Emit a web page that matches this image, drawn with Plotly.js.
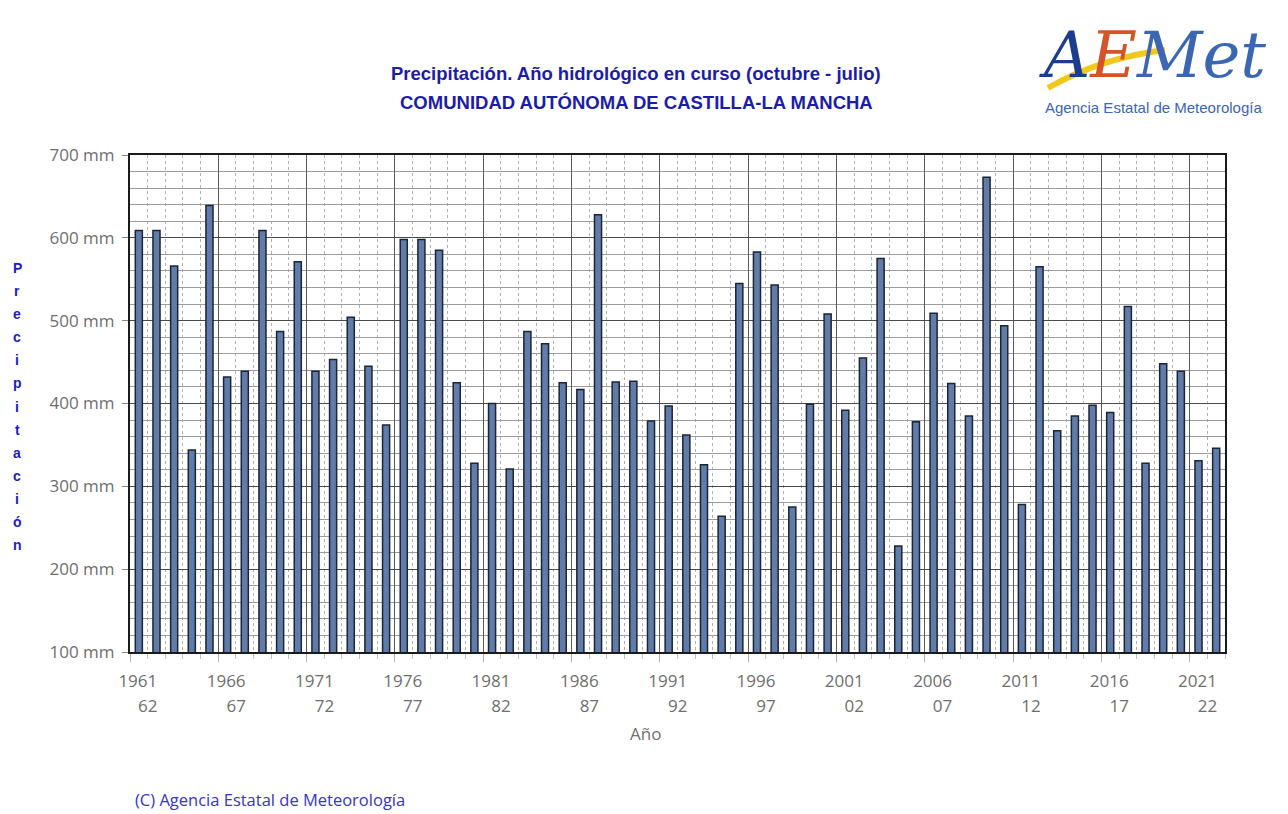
<!DOCTYPE html>
<html>
<head>
<meta charset="utf-8">
<script src="https://cdn.plot.ly/plotly-3.0.1.min.js"></script>
<style>html,body{margin:0;padding:0;background:#fff;}#chart{width:1288px;height:814px;}</style>
</head>
<body>
<div id="chart"></div>
<script>
// Hydrological years (start year of each Oct-Jul period)
const years = [1961,1962,1963,1964,1965,1966,1967,1968,1969,1970,
               1971,1972,1973,1974,1975,1976,1977,1978,1979,1980,
               1981,1982,1983,1984,1985,1986,1987,1988,1989,1990,
               1991,1992,1993,1994,1995,1996,1997,1998,1999,2000,
               2001,2002,2003,2004,2005,2006,2007,2008,2009,2010,
               2011,2012,2013,2014,2015,2016,2017,2018,2019,2020,
               2021,2022];
// Precipitation (mm), October - July
const precip = [609,609,566,344,639,432,439,609,487,571,
                439,453,504,445,374,598,598,585,425,328,
                400,321,487,472,425,417,628,426,427,379,
                397,362,326,264,545,583,543,275,399,508,
                392,455,575,228,378,509,424,385,673,494,
                278,565,367,385,398,389,517,328,448,439,
                331,346];
// Labelled years on the x axis
const labelYears = [1961,1966,1971,1976,1981,1986,1991,1996,2001,2006,2011,2016,2021];
const labelTop = labelYears.map(y => String(y));
const labelBottom = labelYears.map(y => String(y + 1).slice(2));

const titleLine1 = 'Precipitación. Año hidrológico en curso (octubre - julio)';
const titleLine2 = 'COMUNIDAD AUTÓNOMA DE CASTILLA-LA MANCHA';
const yTitle = 'Precipitación';

// layout helpers (pixel -> paper), plot area 130..1225 x 155..652
const L = 130, R = 1225, T = 155, B = 652;
const px = v => (v - L) / (R - L);
const py = v => (B - v) / (B - T);

const traces = [
  {type:'bar', x: years, y: precip, width: 0.4,
   marker:{color:'#617ca8', line:{color:'#1b2536', width:1.5}},
   hoverinfo:'x+y'},
  {type:'scatter', x: [], y: [], xaxis:'x2', yaxis:'y', showlegend:false},
  {type:'scatter', x: [], y: [], xaxis:'x3', yaxis:'y', showlegend:false}
];

const tickFont = {family:'Open Sans, Liberation Sans, sans-serif', size:17, color:'#6e6e6e'};
const xr = [years[0] - 0.5, years[years.length-1] + 0.5];

function ann(text, x, y, font, xanchor) {
  return {text:text, x:px(x), y:py(y), xref:'paper', yref:'paper', showarrow:false,
          xanchor:xanchor || 'center', yanchor:'middle', font:font};
}

const titleFont = {family:'Liberation Sans, Arial, sans-serif', size:18.5, color:'#1c1ca6', weight:'bold'};
const annotations = [
  ann(titleLine1, 636, 73, titleFont),
  ann(titleLine2, 636, 102, titleFont),
  ann('Año', 645, 733, {family:'Open Sans, sans-serif', size:17, color:'#707070'}),
  ann('(C) Agencia Estatal de Meteorología', 133, 799,
      {family:'Open Sans, Liberation Sans, sans-serif', size:16.5, color:'#3434c8'}, 'left'),
  // logo
  ann('<span style="color:#1c3d8e">A</span><span style="color:#d6532a">E</span><span style="color:#3b66b2">Met</span>',
      1152, 55, {family:'DejaVu Serif, serif', size:64, style:'italic'}),
  ann('Agencia Estatal de Meteorología', 1153, 107,
      {family:'Liberation Sans, Arial, sans-serif', size:15, color:'#3b66b2'})
];
// vertical stacked y-axis title
const letters = Array.from(yTitle);
letters.forEach((ch, i) => {
  annotations.push(ann(ch, 17, 268 + i * (545 - 268) / (letters.length - 1),
    {family:'Liberation Sans, Arial, sans-serif', size:14, color:'#1c1cc8', weight:'bold'}));
});

const layout = {
  width:1288, height:814,
  margin:{l:L, r:1288-R, t:T, b:814-B},
  paper_bgcolor:'#ffffff', plot_bgcolor:'#ffffff',
  showlegend:false,
  xaxis:{range:xr, tickmode:'linear', tick0:xr[0], dtick:5, showticklabels:false,
    showgrid:true, gridcolor:'#5a5a5a', gridwidth:1,
    ticks:'outside', ticklen:8, tickcolor:'#b0b0b0',
    minor:{dtick:1, tick0:xr[0], showgrid:true, gridcolor:'#b0b0b0', griddash:'dot', gridwidth:1,
           ticks:'outside', ticklen:5, tickcolor:'#c0c0c0'},
    showline:true, mirror:true, linecolor:'#1a1a1a', linewidth:2, zeroline:false, fixedrange:true},
  xaxis2:{overlaying:'x', anchor:'y', side:'bottom', range:xr, tickmode:'array',
    tickvals:labelYears, ticktext:labelTop, ticks:'', showgrid:false, showline:false, zeroline:false,
    tickfont:tickFont, ticklabelstandoff:17, ticklabelshift:-1},
  xaxis3:{overlaying:'x', anchor:'y', side:'bottom', range:xr, tickmode:'array',
    tickvals:labelYears, ticktext:labelBottom, ticks:'', showgrid:false, showline:false, zeroline:false,
    tickfont:tickFont, ticklabelstandoff:42, ticklabelshift:9},
  yaxis:{range:[100,700], tickmode:'linear', tick0:100, dtick:100, ticksuffix:' mm',
    tickfont:tickFont, showgrid:true, gridcolor:'#4a4a4a', gridwidth:1,
    ticks:'outside', ticklen:6, tickcolor:'#888', ticklabelstandoff:4,
    minor:{dtick:20, showgrid:true, gridcolor:'#9c9c9c', gridwidth:1},
    showline:true, mirror:true, linecolor:'#1a1a1a', linewidth:2, zeroline:false, fixedrange:true},
  annotations: annotations,
  shapes:[
    {type:'path', xref:'paper', yref:'paper', layer:'below',
     path:'M '+px(1048)+' '+py(88)+' Q '+px(1100)+' '+py(58)+' '+px(1165)+' '+py(50),
     line:{color:'#f2c81e', width:6}}
  ]
};

Plotly.newPlot('chart', traces, layout, {displayModeBar:false, staticPlot:true});
</script>
</body>
</html>
